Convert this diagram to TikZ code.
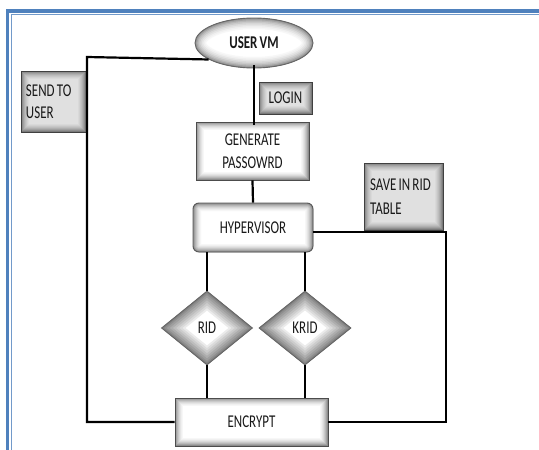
\documentclass[tikz,border=0pt]{standalone}
\usepackage{fontspec}
\setmainfont{Carlito}[FakeStretch=0.72, WordSpace=0.75]
\usetikzlibrary{shapes.geometric}
\definecolor{wordblue}{HTML}{4F81BD}
\newcommand{\lline}[2]{\makebox[#1][l]{#2}}
\begin{document}
\begin{tikzpicture}[x=1pt,y=-1pt,
  font=\fontsize{18}{19}\selectfont,
  txt/.style={text=black!90},
  boxglowlight/.style={path picture={
    \foreach \w/\c in {16/3,14/6,12/10,10/15,8/21,6/28,4/36,2/45}{
      \draw[line width=\w pt, black!\c] (path picture bounding box.south west) rectangle (path picture bounding box.north east);}}},
  boxglowdark/.style={path picture={
    \foreach \w/\c in {16/15,14/18,12/22,10/26,8/31,6/37,4/44,2/52}{
      \draw[line width=\w pt, black!\c] (path picture bounding box.south west) rectangle (path picture bounding box.north east);}}},
  roundglow/.style={path picture={
    \foreach \w/\c in {16/3,14/6,12/10,10/15,8/21,6/28,4/36,2/45}{
      \draw[line width=\w pt, black!\c, rounded corners=6pt] (path picture bounding box.south west) rectangle (path picture bounding box.north east);}}},
  diaglow/.style={path picture={
    \foreach \w/\c in {30/8,26/14,22/20,18/26,14/32,10/38,6/44,3/50}{
      \draw[line width=\w pt, black!\c] (path picture bounding box.north) -- (path picture bounding box.east) -- (path picture bounding box.south) -- (path picture bounding box.west) -- cycle;}}},
  ellglow/.style={path picture={
    \foreach \w/\c in {22/3,19/6,16/10,13/15,10/21,7/28,4.5/36,2/45}{
      \draw[line width=\w pt, black!\c] (path picture bounding box.center) ellipse [x radius=59, y radius=25];}}},
  lightbox/.style={draw=black!70, line width=0.9pt, fill=white, boxglowlight, inner sep=0pt, txt},
  darkbox/.style={draw=black!75, line width=0.9pt, fill=black!12, boxglowdark, inner sep=0pt, txt},
  conn/.style={draw=black, line width=2.2pt},
  thickconn/.style={draw=black, line width=2.8pt}
]
\useasboundingbox (0,0) rectangle (539,450);
\fill[white] (0,0) rectangle (539,450);
% page border
\draw[wordblue, line width=3.5pt] (7.5,460) -- (7.5,11) -- (545,11);
\draw[wordblue!80, line width=1pt] (11,460) -- (11,14.5) -- (545,14.5);

% nodes
\node[ellipse, draw=black!60, line width=0.9pt, fill=white, ellglow, minimum width=118pt, minimum height=50pt, inner sep=0pt, txt, font=\fontsize{18}{19}\selectfont\bfseries] (uvm) at (254,43) {USER VM};
\node[darkbox, minimum width=65pt, minimum height=61pt, align=left] (send) at (53.5,101.5) {\lline{55pt}{SEND TO}\\[3pt]\lline{55pt}{USER}};
\node[darkbox, minimum width=53pt, minimum height=32pt] (login) at (285.5,98) {LOGIN};
\node[lightbox, minimum width=113pt, minimum height=58pt, align=center] (gen) at (252.5,151) {GENERATE\\[4pt]PASSOWRD};
\node[draw=black!65, line width=0.9pt, fill=white, roundglow, rounded corners=6pt, minimum width=120pt, minimum height=49pt, inner sep=0pt, txt] (hyp) at (253,227.5) {HYPERVISOR};
\node[darkbox, minimum width=79pt, minimum height=67pt, align=left] (save) at (403.5,196.5) {\lline{67pt}{SAVE IN RID}\\[5pt]\lline{67pt}{TABLE}};
\node[diamond, draw=black!60, line width=0.9pt, fill=white, diaglow, minimum width=91pt, minimum height=74pt, inner sep=0pt, txt] (rid) at (207,328) {RID};
\node[diamond, draw=black!60, line width=0.9pt, fill=white, diaglow, minimum width=92pt, minimum height=74pt, inner sep=0pt, txt] (krid) at (305,328) {KRID};
\node[lightbox, minimum width=153pt, minimum height=48pt] (enc) at (251.5,422) {ENCRYPT};

% connectors
\coordinate (c1) at (87,57);
\draw[conn] (uvm.200) -- (c1) -- (c1 |- enc.west) -- (enc.west);
\draw[conn] ([yshift=3pt]uvm.south) -- ([yshift=-3pt]uvm.south |- gen.north);
\draw[conn] (gen.south) -- (hyp.north);
\coordinate (c2) at (446,232);
\draw[thickconn] (hyp.east |- c2) -- (c2) -- (c2 |- enc.east) -- (enc.east);
\draw[conn] (rid.north |- hyp.south) -- (rid.north);
\draw[conn] (krid.north |- hyp.south) -- (krid.north);
\draw[conn] (rid.south) -- (rid.south |- enc.north);
\draw[conn] (krid.south) -- (krid.south |- enc.north);
\end{tikzpicture}
\end{document}
